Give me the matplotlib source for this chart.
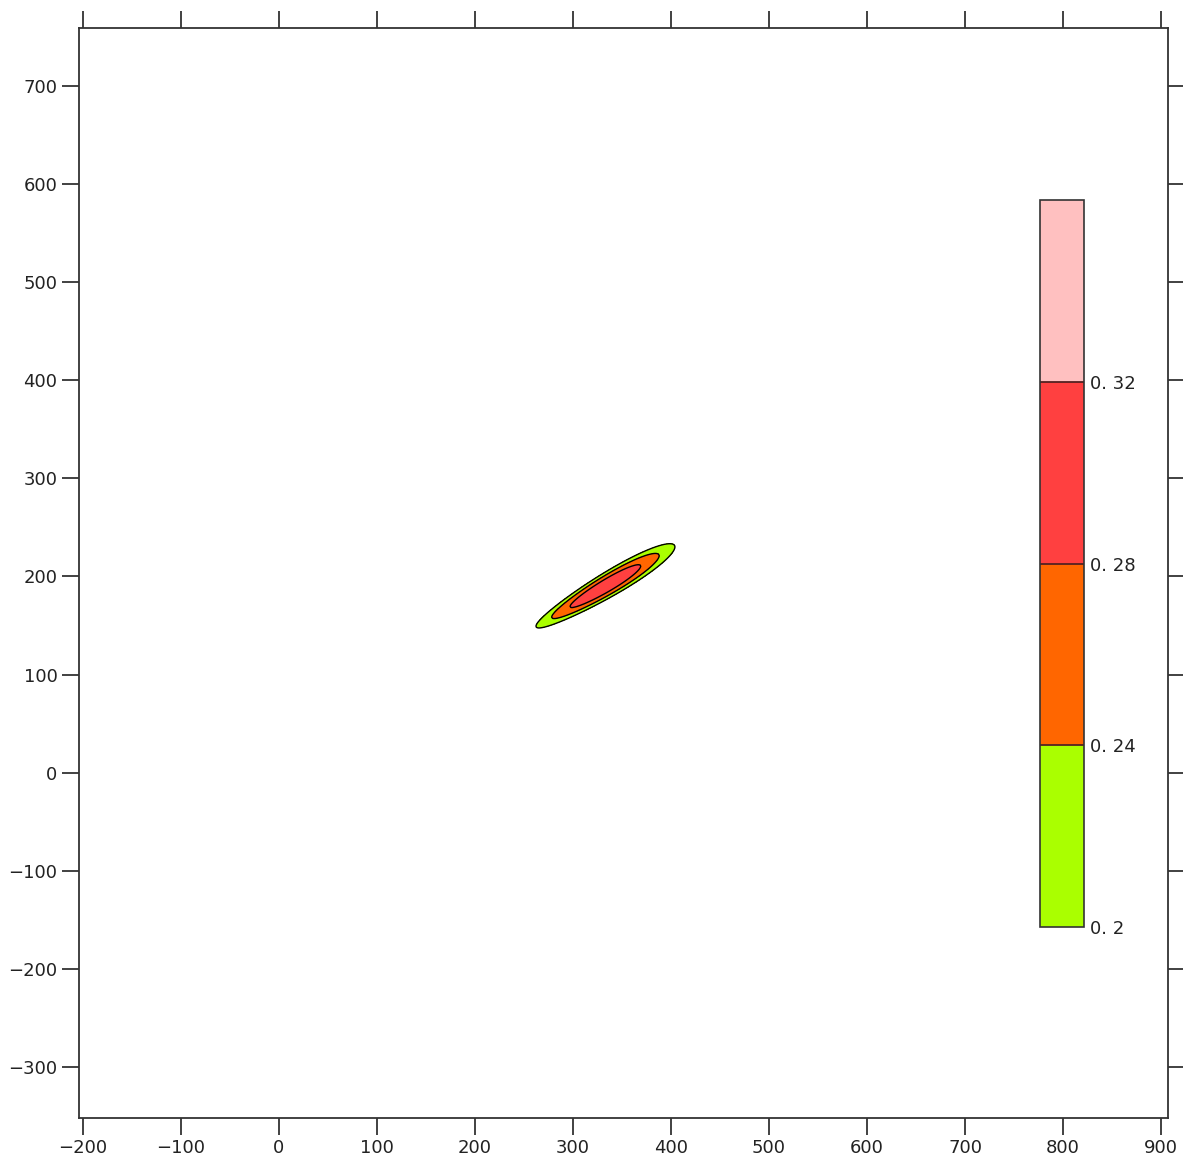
import numpy as np
import matplotlib
matplotlib.use("Agg")
import matplotlib.pyplot as plt
from matplotlib.colors import ListedColormap, BoundaryNorm

# ---- data ----
levels = [0.2, 0.24, 0.28, 0.32, 0.36]
level_colors = ["#aaff00", "#ff6600", "#ff4040", "#ffc0c0"]
tick_levels = [0.2, 0.24, 0.28, 0.32]
tick_labels = ["0. 2", "0. 24", "0. 28", "0. 32"]
xticks = [-200, -100, 0, 100, 200, 300, 400, 500, 600, 700, 800, 900]
yticks = [-300, -200, -100, 0, 100, 200, 300, 400, 500, 600, 700]

# plume parameters
center_x, center_y = 333.0, 190.0
angle_deg = 30.5
peak_value = 0.315
sigma_along = 86.0
sigma_across = 13.0

x = np.linspace(-204, 907, 900)
y = np.linspace(-352, 759, 900)
X, Y = np.meshgrid(x, y)
th = np.deg2rad(angle_deg)
U = (X - center_x) * np.cos(th) + (Y - center_y) * np.sin(th)
V = -(X - center_x) * np.sin(th) + (Y - center_y) * np.cos(th)
sa = sigma_across * (1 + 0.15 * np.clip(U / 80, -1, 1))
Z = peak_value * np.exp(-U**2 / (2 * sigma_along**2) - V**2 / (2 * sa**2))

fig = plt.figure(figsize=(11.83, 11.62), dpi=100)
ax = fig.add_axes([0.0668, 0.0379, 0.9205, 0.938])
cmap = ListedColormap(level_colors)
norm = BoundaryNorm(levels, cmap.N)
cf = ax.contourf(X, Y, Z, levels=levels, cmap=cmap, norm=norm)
ax.contour(X, Y, Z, levels=levels[:-1], colors="black", linewidths=1.0)

ax.set_xlim(-204, 907)
ax.set_ylim(-352, 759)
ax.set_xticks(xticks)
ax.set_yticks(yticks)
ax.tick_params(axis="both", direction="out", length=12, width=1.3, labelsize=13,
               top=True, right=True, labeltop=False, labelright=False, colors="#333333")
ax.tick_params(axis="both", labelcolor="#222222")
for s in ax.spines.values():
    s.set_linewidth(1.3)
    s.set_color("#333333")

cax = ax.inset_axes([0.8825, 0.175, 0.0404, 0.667])
cb = fig.colorbar(cf, cax=cax, ticks=tick_levels)
cb.ax.minorticks_off()
cb.ax.set_yticklabels(tick_labels)
cb.ax.tick_params(which="both", length=0, labelsize=13, pad=4, labelcolor="#222222")
cb.outline.set_linewidth(1.2)
cb.outline.set_edgecolor("#333333")
for lv in tick_levels[1:]:
    cb.ax.axhline(lv, color="#552222", linewidth=1.3)

fig.savefig("out.png", dpi=100, facecolor="white")
